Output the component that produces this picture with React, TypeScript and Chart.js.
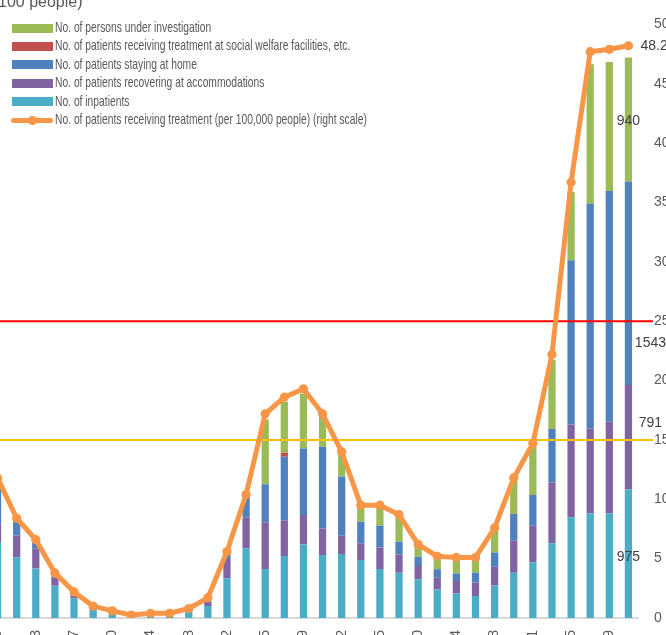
import React, { useEffect, useRef } from "react";
import { Chart, registerables } from "chart.js";

Chart.register(...registerables);

// ---- data ----
const labels = [
  "3/30", "4/1", "4/3", "4/5", "4/7", "4/8", "4/10", "4/12", "4/14", "4/16",
  "4/18", "4/20", "4/22", "4/23", "4/25", "4/27", "4/29", "4/30", "5/2", "5/4",
  "5/5", "5/7", "5/10", "5/12", "5/14", "5/16", "5/18", "5/19", "5/21", "5/23",
  "5/25", "5/27", "5/29", "5/31",
];

const inpatients = [
  574, 460, 376, 245, 149, 66, 35, 16, 27, 27,
  58, 91, 300, 528, 371, 470, 558, 477, 485, 439,
  371, 343, 293, 217, 187, 167, 247, 343, 422, 566,
  763, 793, 793, 975,
];
const accommodations = [
  136, 166, 149, 63, 20, 10, 8, 3, 4, 4,
  6, 33, 147, 235, 354, 270, 222, 202, 139, 127,
  164, 139, 101, 89, 93, 103, 142, 243, 277, 462,
  704, 644, 694, 791,
];
const home = [
  313, 104, 45, 25, 20, 8, 6, 2, 3, 3,
  5, 20, 30, 150, 288, 482, 505, 619, 447, 164,
  164, 96, 71, 63, 58, 73, 108, 202, 233, 404,
  1245, 1705, 1750, 1543,
];
const welfare = [
  0, 0, 0, 0, 0, 0, 0, 0, 0, 0,
  0, 0, 0, 0, 0, 30, 0, 0, 0, 0,
  0, 0, 0, 0, 0, 0, 0, 0, 0, 0,
  0, 0, 0, 0,
];
const investigation = [
  15, 10, 12, 2, 5, 4, 4, 1, 1, 1,
  1, 6, 17, 4, 492, 387, 417, 227, 165, 110,
  138, 190, 85, 92, 112, 109, 175, 252, 364, 523,
  518, 1055, 978, 940,
];
const perCapita = [
  11.8, 8.4, 6.6, 3.8, 2.2, 1.0, 0.6, 0.25, 0.4, 0.4,
  0.8, 1.7, 5.6, 10.4, 17.2, 18.6, 19.3, 17.2, 14.0, 9.5,
  9.5, 8.7, 6.2, 5.2, 5.1, 5.1, 7.6, 11.8, 14.7, 22.2,
  36.7, 47.7, 47.9, 48.2,
];
const thresholds = [
  { value: 25, color: "#FF0000" },
  { value: 15, color: "#FFC000" },
];

// ---- styles ----
const FONT = '"Liberation Sans", Arial, sans-serif';
const TICK_COLOR = "#595959";
const LABEL_COLOR = "#404040";
const C_TEAL = "#4BACC6";
const C_PURPLE = "#8064A2";
const C_BLUE = "#4F81BD";
const C_RED = "#C0504D";
const C_GREEN = "#9BBB59";
const C_ORANGE = "#F79646";

const barSeries = [
  { label: "No. of inpatients", data: inpatients, color: C_TEAL },
  { label: "No. of patients recovering at accommodations", data: accommodations, color: C_PURPLE },
  { label: "No. of patients staying at home", data: home, color: C_BLUE },
  { label: "No. of patients receiving treatment at social welfare facilities, etc.", data: welfare, color: C_RED },
  { label: "No. of persons under investigation", data: investigation, color: C_GREEN },
];
const lineLabel = "No. of patients receiving treatment (per 100,000 people) (right scale)";
const LINE_INDEX = barSeries.length;

// placement of the value labels on the last bar, relative to each segment's centre
const lastBarLabelOffsets = [
  { dx: 0, dy: 3 },
  { dx: 22, dy: -14 },
  { dx: 22, dy: 60 },
  null,
  { dx: 0, dy: 2 },
];

const CANVAS_W = 698;
const CANVAS_H = 648;
const CANVAS_LEFT = -20;

const overlayPlugin = {
  id: "overlay",
  beforeDatasetDraw(chart: any, args: any) {
    if (args.index !== LINE_INDEX) return;
    const { ctx, chartArea } = chart;
    const y1 = chart.scales.y1;
    ctx.save();
    thresholds.forEach((t) => {
      const y = y1.getPixelForValue(t.value);
      ctx.strokeStyle = t.color;
      ctx.lineWidth = 2;
      ctx.beginPath();
      ctx.moveTo(0, y);
      ctx.lineTo(chartArea.right + 15, y);
      ctx.stroke();
    });
    ctx.restore();
  },
  afterDatasetsDraw(chart: any) {
    const { ctx } = chart;
    const last = labels.length - 1;
    ctx.save();
    ctx.font = `14px ${FONT}`;
    ctx.fillStyle = LABEL_COLOR;
    ctx.textBaseline = "middle";
    barSeries.forEach((s, i) => {
      const off = lastBarLabelOffsets[i];
      if (!off) return;
      const el = chart.getDatasetMeta(i).data[last];
      const p = el.getProps(["x", "y", "base"], true);
      const cy = (p.y + p.base) / 2;
      const txt = String(s.data[last]);
      ctx.textAlign = off.dx === 0 ? "center" : "left";
      const x = off.dx === 0 ? p.x : p.x + off.dx - ctx.measureText(txt).width / 2;
      ctx.fillText(txt, x, cy + off.dy);
    });
    const pt = chart.getDatasetMeta(LINE_INDEX).data[last];
    ctx.textAlign = "left";
    ctx.fillText(perCapita[last].toFixed(1), pt.x + 12, pt.y);
    ctx.restore();
  },
};

export default function App() {
  const canvasRef = useRef<HTMLCanvasElement | null>(null);

  useEffect(() => {
    if (!canvasRef.current) return;
    const datasets: any[] = barSeries.map((s) => ({
      type: "bar",
      label: s.label,
      data: s.data,
      backgroundColor: s.color,
      borderWidth: 0,
      yAxisID: "y",
      stack: "s",
      order: 1,
      barPercentage: 0.38,
      categoryPercentage: 1,
    }));
    datasets.push({
      type: "line",
      label: lineLabel,
      data: perCapita,
      yAxisID: "y1",
      borderColor: C_ORANGE,
      backgroundColor: C_ORANGE,
      borderWidth: 5,
      pointRadius: 4.6,
      pointBorderWidth: 0,
      pointBackgroundColor: C_ORANGE,
      borderJoinStyle: "round",
      borderCapStyle: "round",
      tension: 0,
      order: 0,
    });

    const chart = new Chart(canvasRef.current, {
      type: "bar",
      data: { labels, datasets },
      plugins: [overlayPlugin],
      options: {
        animation: false,
        responsive: false,
        devicePixelRatio: 1,
        layout: { padding: { left: 8, top: 24, right: 0, bottom: 0 } },
        plugins: {
          legend: { display: false },
          tooltip: { enabled: false },
        },
        scales: {
          x: {
            stacked: true,
            offset: true,
            grid: { display: false, drawTicks: false },
            border: { display: true, color: "#D9D9D9", width: 2 },
            ticks: {
              autoSkip: false,
              maxRotation: 90,
              minRotation: 90,
              padding: 12,
              color: TICK_COLOR,
              font: { size: 14, family: FONT },
              callback: (_v: any, i: number) => (i % 2 === 0 ? labels[i] : ""),
            },
            afterFit: (s: any) => {
              s.height = 30;
            },
          },
          y: {
            display: false,
            stacked: true,
            min: 0,
            max: 4500,
          },
          y1: {
            position: "right",
            min: 0,
            max: 50,
            grid: { display: false, drawTicks: false },
            border: { display: false },
            ticks: {
              stepSize: 5,
              padding: 16,
              color: TICK_COLOR,
              font: { size: 14, family: FONT },
            },
            afterFit: (s: any) => {
              s.width = 40;
            },
          },
        },
      } as any,
    });
    return () => chart.destroy();
  }, []);

  const legendItems = [
    ...barSeries.slice().reverse().map((s) => ({ label: s.label, color: s.color, line: false })),
    { label: lineLabel, color: C_ORANGE, line: true },
  ];

  return (
    <div
      style={{
        position: "absolute",
        left: 0,
        top: 0,
        width: 666,
        height: 635,
        overflow: "hidden",
        background: "#fff",
      }}
    >
      <div style={{ position: "absolute", left: CANVAS_LEFT, top: 0, width: CANVAS_W, height: CANVAS_H }}>
        <canvas ref={canvasRef} width={CANVAS_W} height={CANVAS_H} style={{ width: CANVAS_W, height: CANVAS_H, display: "block" }} />
      </div>
      <div
        style={{
          position: "absolute",
          left: -2,
          top: -6,
          fontFamily: FONT,
          fontSize: 16,
          lineHeight: 1,
          color: TICK_COLOR,
          whiteSpace: "nowrap",
        }}
      >
        100 people)
      </div>
      <div style={{ position: "absolute", left: 0, top: 19 }}>
        {legendItems.map((it) => (
          <div key={it.label} style={{ position: "relative", height: 18.4, width: 600 }}>
            {it.line ? (
              <div style={{ position: "absolute", left: 11, top: 6.7, width: 42, height: 5, background: it.color, borderRadius: 3 }}>
                <div style={{ position: "absolute", left: 16.5, top: -2, width: 9, height: 9, borderRadius: "50%", background: it.color }} />
              </div>
            ) : (
              <div style={{ position: "absolute", left: 12, top: 4.7, width: 41, height: 9, background: it.color }} />
            )}
            <div
              style={{
                position: "absolute",
                left: 55,
                top: 0,
                fontFamily: FONT,
                fontSize: 14.5,
                lineHeight: "16px",
                color: TICK_COLOR,
                whiteSpace: "nowrap",
                transform: "scaleX(0.71)",
                transformOrigin: "left center",
              }}
            >
              {it.label}
            </div>
          </div>
        ))}
      </div>
    </div>
  );
}
